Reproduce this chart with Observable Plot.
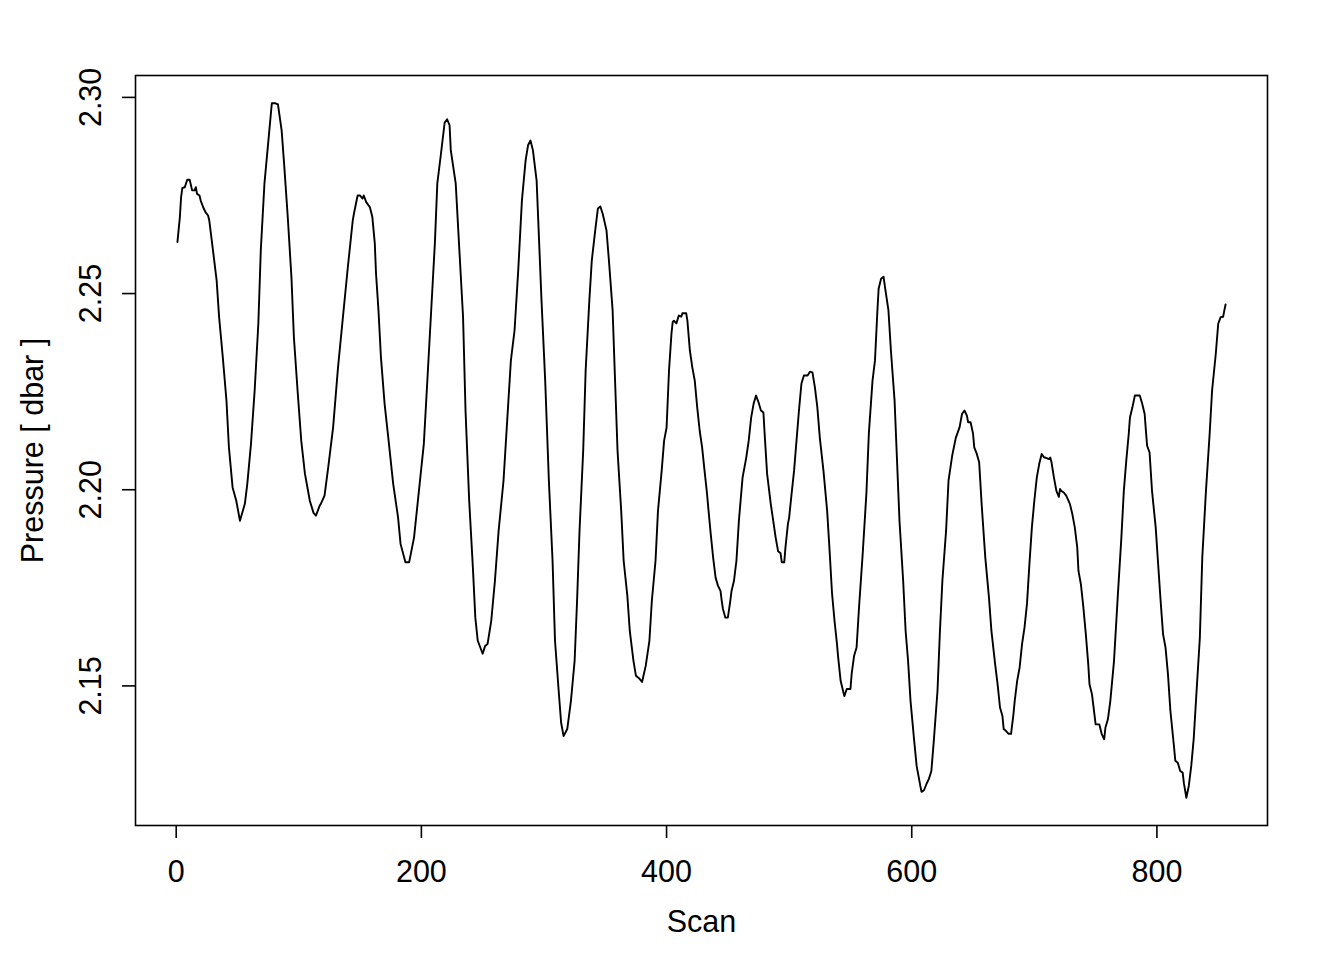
<!DOCTYPE html>
<html><head><meta charset="utf-8">
<script src="https://cdn.jsdelivr.net/npm/d3@7"></script>
<script src="https://cdn.jsdelivr.net/npm/@observablehq/plot@0.6"></script>
<style>html,body{margin:0;padding:0;background:#fff} svg{display:block}</style>
</head><body><div id="chart"></div>
<script>
// [scan, pressure (dbar)], one array per wave cycle
const cycle1 = [[1,2.2631],[3,2.2695],[4,2.2746],[5,2.2769],[7,2.2771],[9,2.2790],[11,2.2790],[13,2.2763],[15,2.2763],[16,2.2771],[17,2.2754],[19,2.2750],[20,2.2737],[22,2.2720],[24,2.2707],[26,2.2699],[27,2.2686],[30,2.2610],[33,2.2533],[35,2.2440],[38,2.2338],[41,2.2227],[43,2.2108],[46,2.2006],[49,2.1972],[52,2.1921],[56,2.1964],[58,2.2015],[61,2.2117],[64,2.2253],[67,2.2423],[69,2.2610],[72,2.2781],[75,2.2883],[78,2.2985],[81,2.2985],[83,2.2982]];
const cycle2 = [[86,2.2916],[88,2.2832],[91,2.2695],[94,2.2542],[96,2.2389],[99,2.2253],[102,2.2125],[105,2.2041],[109,2.1972],[112,2.1941],[114,2.1934],[117,2.1959],[118,2.1964],[121,2.1985],[124,2.2057],[128,2.2159],[132,2.2312],[136,2.2440],[140,2.2567],[144,2.2686],[145,2.2704],[148,2.2750],[150,2.2750],[152,2.2742],[153,2.2750],[155,2.2733],[158,2.2720],[160,2.2695],[162,2.2628],[163,2.2551]];
const cycle3 = [[165,2.2457],[167,2.2338],[170,2.2219],[173,2.2133],[177,2.2015],[181,2.1929],[183,2.1862],[187,2.1815],[190,2.1815],[194,2.1878],[198,2.1997],[202,2.2117],[205,2.2286],[208,2.2457],[211,2.2628],[213,2.2781],[216,2.2857],[219,2.2936],[221,2.2944],[223,2.2929],[224,2.2865],[228,2.2781],[231,2.2610],[234,2.2440],[236,2.2202],[239,2.1972],[242,2.1802],[244,2.1674]];
const cycle4 = [[246,2.1615],[250,2.1582],[252,2.1602],[254,2.1607],[257,2.1666],[260,2.1768],[263,2.1895],[267,2.2023],[270,2.2176],[273,2.2329],[276,2.2406],[279,2.2559],[282,2.2737],[285,2.2839],[287,2.2878],[289,2.2890],[291,2.2865],[294,2.2788],[296,2.2635],[298,2.2482],[301,2.2278],[304,2.2023],[307,2.1819],[309,2.1615],[312,2.1487],[314,2.1406],[316,2.1372],[319,2.1390],[322,2.1462],[325,2.1564],[327,2.1717],[329,2.1895],[332,2.2100],[334,2.2304],[337,2.2482],[339,2.2584],[342,2.2666],[344,2.2717],[346,2.2722],[348,2.2702],[351,2.2661],[353,2.2584],[356,2.2457],[358,2.2278],[360,2.2100],[363,2.1946],[365,2.1819],[368,2.1730],[370,2.1640],[373,2.1564],[375,2.1526],[378,2.1518],[380,2.1510],[383,2.1551],[386,2.1615],[388,2.1717],[391,2.1819],[393,2.1946],[396,2.2048],[398,2.2125],[400,2.2158],[402,2.2304],[404,2.2398]];
const cycle5 = [[405,2.2427],[406,2.2431],[408,2.2424],[410,2.2444],[412,2.2441],[413,2.2450],[416,2.2450],[417,2.2431],[419,2.2355],[421,2.2312],[423,2.2278],[425,2.2210],[427,2.2151],[429,2.2108],[431,2.2048],[433,2.1990],[434,2.1955],[436,2.1888],[438,2.1827],[440,2.1776],[442,2.1755],[444,2.1742],[445,2.1717],[446,2.1696],[448,2.1674],[450,2.1674],[452,2.1717],[453,2.1742],[455,2.1768],[457,2.1819],[459,2.1921],[462,2.2031],[465,2.2082],[467,2.2125],[469,2.2184],[471,2.2219],[473,2.2240],[475,2.2223],[477,2.2202],[479,2.2197],[480,2.2143],[482,2.2041],[485,2.1964],[489,2.1878]];
const cycle6 = [[491,2.1843],[493,2.1838],[494,2.1815],[496,2.1815],[497,2.1853],[499,2.1913],[500,2.1929],[502,2.1990],[504,2.2048],[506,2.2125],[508,2.2202],[510,2.2270],[512,2.2291],[515,2.2291],[517,2.2301],[519,2.2299],[521,2.2261],[523,2.2210],[525,2.2133],[528,2.2048],[531,2.1946],[533,2.1844],[535,2.1735],[537,2.1666],[539,2.1607],[540,2.1572],[542,2.1513],[543,2.1500],[545,2.1474],[547,2.1492],[550,2.1492],[551,2.1531],[553,2.1577],[555,2.1598],[557,2.1700],[560,2.1837],[563,2.1990],[565,2.2143],[568,2.2278],[570,2.2329]];
const cycle7 = [[572,2.2457],[573,2.2513],[575,2.2538],[577,2.2543],[578,2.2520],[581,2.2457],[583,2.2355],[586,2.2227],[588,2.2074],[590,2.1921],[593,2.1768],[595,2.1640],[597,2.1564],[599,2.1462],[602,2.1360],[604,2.1296],[607,2.1245],[608,2.1230],[610,2.1234],[612,2.1250],[614,2.1263],[616,2.1283],[618,2.1360],[621,2.1487],[623,2.1640],[625,2.1768],[628,2.1895],[630,2.2023],[633,2.2087],[636,2.2133],[639,2.2159],[641,2.2193],[643,2.2202],[645,2.2189],[646,2.2172],[648,2.2172],[650,2.2143],[651,2.2108],[653,2.2092],[655,2.2070],[657,2.1964],[660,2.1827],[663,2.1725],[665,2.1640],[668,2.1556],[670,2.1505],[672,2.1445],[674,2.1423],[675,2.1390],[677,2.1385],[679,2.1378],[681,2.1378],[683,2.1429],[684,2.1462],[686,2.1513],[688,2.1547],[690,2.1607],[692,2.1649],[694,2.1709],[696,2.1811],[698,2.1904],[700,2.1972],[702,2.2031],[704,2.2066],[706,2.2091],[708,2.2082],[709,2.2082],[712,2.2078],[713,2.2082],[714,2.2070],[716,2.2031],[718,2.1997],[720,2.1982],[721,2.2002],[722,2.1997],[724,2.1993],[726,2.1985]];
const cycle8 = [[729,2.1964],[731,2.1938],[733,2.1904],[735,2.1853],[736,2.1793],[738,2.1759],[740,2.1700],[742,2.1632],[744,2.1555],[745,2.1504],[747,2.1479],[749,2.1428],[750,2.1402],[753,2.1402],[755,2.1377],[757,2.1364],[758,2.1394],[760,2.1415],[762,2.1462],[765,2.1564],[768,2.1725],[771,2.1878],[773,2.1997],[775,2.2074],[777,2.2142],[778,2.2184],[780,2.2210],[782,2.2240],[786,2.2240],[788,2.2219],[790,2.2193],[791,2.2151],[792,2.2112],[794,2.2095],[796,2.1997],[799,2.1904],[801,2.1810],[803,2.1717],[805,2.1632],[807,2.1598],[809,2.1530],[811,2.1436],[814,2.1343],[815,2.1309],[817,2.1304],[819,2.1283],[821,2.1279],[822,2.1252],[824,2.1215],[826,2.1245],[828,2.1296],[830,2.1365],[832,2.1469],[835,2.1622],[837,2.1827],[840,2.1997],[843,2.2142],[845,2.2253],[848,2.2346],[850,2.2423],[852,2.2440],[854,2.2441],[855,2.2457],[856,2.2472]];

const xTicks = [0, 200, 400, 600, 800];
const yTicks = [2.15, 2.20, 2.25, 2.30];
const xLabel = "Scan";
const yLabel = "Pressure [ dbar ]";

const data = [...cycle1, ...cycle2, ...cycle3, ...cycle4, ...cycle5, ...cycle6, ...cycle7, ...cycle8]
  .map(([scan, pressure]) => ({scan, pressure}));

// R-style 4% axis extension
const pad = ([a, b]) => { const r = b - a; return [a - 0.04 * r, b + 0.04 * r]; };
const xDom = pad(d3.extent(data, d => d.scan));
const yDom = pad(d3.extent(data, d => d.pressure));

const font = "'Liberation Sans', Arimo, Arial, Helvetica, sans-serif";
const fs = 30.5;

const chart = Plot.plot({
  width: 1344, height: 960,
  marginLeft: 135, marginRight: 77, marginTop: 75, marginBottom: 135,
  style: {fontFamily: font, fontSize: fs + "px", color: "#000", background: "#fff"},
  x: {domain: xDom},
  y: {domain: yDom},
  marks: [
    Plot.frame({stroke: "#000", strokeWidth: 1.6}),
    Plot.axisX({ticks: xTicks, tickSize: 13, tickPadding: 22, tickFormat: d => String(d), label: null, fontSize: fs, strokeWidth: 1.6}),
    Plot.axisY({ticks: yTicks, tickSize: 13, tickPadding: 22, tickRotate: -90, tickFormat: d => d.toFixed(2), label: null, fontSize: fs, strokeWidth: 1.6}),
    Plot.line(data, {x: "scan", y: "pressure", stroke: "#000", strokeWidth: 1.9}),
    Plot.text([xLabel], {text: d => d, frameAnchor: "bottom", lineAnchor: "middle", dy: 97, fontSize: fs}),
    Plot.text([yLabel], {text: d => d, frameAnchor: "left", textAnchor: "middle", lineAnchor: "middle", dx: -102, rotate: -90, fontSize: fs})
  ]
});
document.getElementById("chart").appendChild(chart);
</script>
</body></html>
